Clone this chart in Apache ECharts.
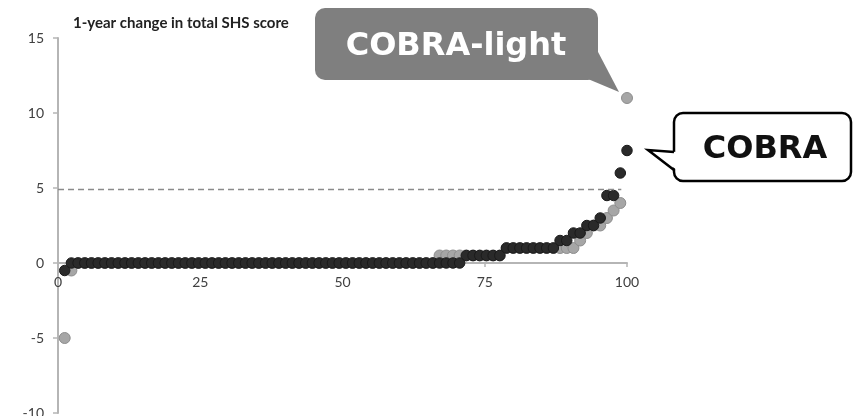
<!DOCTYPE html>
<html>
<head>
<meta charset="utf-8">
<script src="https://cdn.jsdelivr.net/npm/echarts@6/dist/echarts.min.js"></script>
<style>html,body{margin:0;padding:0;background:#fff;}#c{width:853px;height:416px;}</style>
</head>
<body>
<div id="c"></div>
<script>
// 1-year change in total SHS score, sorted, plotted at percentile rank
const cobraValues = [
  -0.5,
  0,0,0,0,0,0,0,0,0,0,
  0,0,0,0,0,0,0,0,0,0,
  0,0,0,0,0,0,0,0,0,0,
  0,0,0,0,0,0,0,0,0,0,
  0,0,0,0,0,0,0,0,0,0,
  0,0,0,0,0,0,0,0,0,
  0.5,0.5,0.5,0.5,0.5,0.5,
  1,1,1,1,1,1,1,1,
  1.5,1.5,
  2,2,
  2.5,2.5,
  3,
  4.5,4.5,
  6,
  7.5
];
const cobraLightValues = [
  -5, -0.5,
  0,0,0,0,0,0,0,0,0,0,
  0,0,0,0,0,0,0,0,0,0,
  0,0,0,0,0,0,0,0,0,0,
  0,0,0,0,0,0,0,0,0,0,
  0,0,0,0,0,0,0,0,0,0,
  0,0,0,0,
  0.5,0.5,0.5,0.5,0.5,0.5,0.5,0.5,0.5,0.5,
  1,1,1,1,1,1,1,1,1,1,1,
  1.5,2,2.5,2.5,3,3.5,4,
  11
];
const xTicks = [0, 25, 50, 75, 100];
const yTicks = [-10, -5, 0, 5, 10, 15];
const thresholdValue = 4.9;
const thresholdRange = [0, 99];
const titleText = '1-year change in total SHS score';

function toPercentile(values) {
  const n = values.length;
  return values.map((v, i) => [(i + 1) * 100 / n, v]);
}

const chart = echarts.init(document.getElementById('c'), null, {renderer: 'canvas'});
const labelFont = {fontFamily: 'Lato', fontSize: 14, color: '#404040'};
const axisColor = '#b5b5b5';
const gridTop = 38, gridBottom = 3, gridHeight = 416 - gridTop - gridBottom;
// place the x axis at y = 0 (labels follow it)
const zeroOffset = -gridHeight * (0 - yTicks[0]) / (yTicks[yTicks.length - 1] - yTicks[0]);

chart.setOption({
  animation: false,
  title: {
    text: titleText, left: 68, top: 11,
    textStyle: {fontFamily: 'Lato', fontWeight: 'bold', fontSize: 15, color: '#222'}
  },
  grid: {left: 58, right: 226, top: gridTop, bottom: gridBottom, containLabel: false, outerBoundsMode: 'none'},
  xAxis: {
    type: 'value', position: 'bottom', offset: zeroOffset,
    min: xTicks[0], max: xTicks[xTicks.length - 1], interval: 25,
    axisLine: {show: true, onZero: false, lineStyle: {color: axisColor, width: 2}},
    axisTick: {show: true, length: 4, lineStyle: {color: axisColor, width: 1.5}},
    axisLabel: Object.assign({margin: 12}, labelFont),
    splitLine: {show: false}
  },
  yAxis: {
    type: 'value', min: yTicks[0], max: yTicks[yTicks.length - 1], interval: 5,
    axisLine: {show: true, onZero: false, lineStyle: {color: axisColor, width: 2}},
    axisTick: {show: true, length: 5, lineStyle: {color: axisColor, width: 1.5}},
    axisLabel: Object.assign({margin: 14}, labelFont),
    splitLine: {show: false}
  },
  series: [
    {
      name: 'COBRA-light', type: 'scatter', symbol: 'circle', symbolSize: 11,
      data: toPercentile(cobraLightValues),
      itemStyle: {color: '#a6a6a6', borderColor: '#8d8d8d', borderWidth: 1, opacity: 1},
      z: 2,
      markLine: {
        silent: true, symbol: ['none', 'none'],
        label: {show: false},
        lineStyle: {type: [6, 4], color: '#8a8a8a', width: 1.3},
        data: [[{coord: [thresholdRange[0], thresholdValue]}, {coord: [thresholdRange[1], thresholdValue]}]]
      }
    },
    {
      name: 'COBRA', type: 'scatter', symbol: 'circle', symbolSize: 10.5,
      data: toPercentile(cobraValues),
      itemStyle: {color: '#2a2a2a', borderColor: '#1a1a1a', borderWidth: 1, opacity: 1},
      z: 3
    }
  ],
  graphic: [
    {
      type: 'rect', z: 10,
      shape: {x: 315, y: 8, width: 283, height: 72, r: 10},
      style: {fill: '#7f7f7f'}
    },
    {
      type: 'polygon', z: 10,
      shape: {points: [[597, 50], [619, 92], [588, 79], [588, 50]]},
      style: {fill: '#7f7f7f'}
    },
    {
      type: 'text', z: 11, x: 456, y: 47,
      style: {text: 'COBRA-light', fill: '#ffffff', font: 'bold 32px "DejaVu Sans"', align: 'center', verticalAlign: 'middle'}
    },
    {
      type: 'rect', z: 10,
      shape: {x: 674, y: 113, width: 177, height: 68, r: 9},
      style: {fill: '#ffffff', stroke: '#000000', lineWidth: 2.5}
    },
    {
      type: 'polygon', z: 11,
      shape: {points: [[677, 152], [648, 150], [677, 170]]},
      style: {fill: '#ffffff'}
    },
    {
      type: 'polyline', z: 12,
      shape: {points: [[674, 170], [648, 150], [674, 152]]},
      style: {stroke: '#000000', lineWidth: 2.5, fill: null}
    },
    {
      type: 'text', z: 12, x: 765, y: 150,
      style: {text: 'COBRA', fill: '#111111', font: 'bold 32px "DejaVu Sans"', align: 'center', verticalAlign: 'middle'}
    }
  ]
});
</script>
</body>
</html>
